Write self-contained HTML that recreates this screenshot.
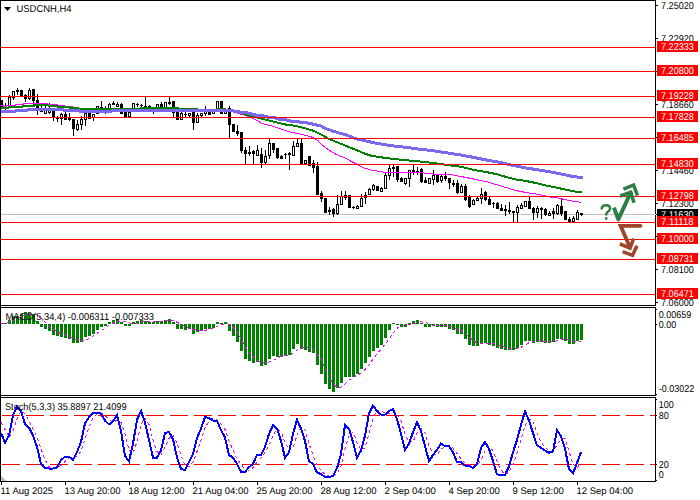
<!DOCTYPE html><html><head><meta charset="utf-8"><style>html,body{margin:0;padding:0;background:#fff;width:700px;height:500px;overflow:hidden}svg{display:block}text{font-family:"Liberation Sans",sans-serif;font-size:9.5px;text-rendering:geometricPrecision}</style></head><body>
<svg width="700" height="500" viewBox="0 0 700 500" shape-rendering="crispEdges">
<rect x="0" y="0" width="700" height="500" fill="#fff"/>
<defs><clipPath id="cm"><rect x="1" y="1" width="654" height="304"/></clipPath><clipPath id="cd"><rect x="1" y="308" width="654" height="87"/></clipPath><clipPath id="cs"><rect x="1" y="398" width="654" height="83"/></clipPath></defs>
<g clip-path="url(#cm)">
<rect x="1" y="214" width="654" height="1" fill="#c0c0c0"/>
<rect x="1" y="100" width="1" height="9" fill="#000"/>
<rect x="0" y="100" width="3" height="7" fill="#000"/>
<rect x="5" y="103" width="1" height="8" fill="#000"/>
<rect x="4" y="106" width="3" height="2" fill="#000"/>
<rect x="9" y="95" width="1" height="12" fill="#000"/>
<rect x="8" y="97" width="3" height="10" fill="#000"/>
<rect x="9" y="98" width="1" height="8" fill="#fff"/>
<rect x="13" y="91" width="1" height="9" fill="#000"/>
<rect x="12" y="91" width="3" height="7" fill="#000"/>
<rect x="13" y="92" width="1" height="5" fill="#fff"/>
<rect x="17" y="88" width="1" height="7" fill="#000"/>
<rect x="16" y="90" width="3" height="2" fill="#000"/>
<rect x="21" y="90" width="1" height="6" fill="#000"/>
<rect x="20" y="90" width="3" height="6" fill="#000"/>
<rect x="25" y="94" width="1" height="8" fill="#000"/>
<rect x="24" y="95" width="3" height="4" fill="#000"/>
<rect x="29" y="88" width="1" height="12" fill="#000"/>
<rect x="28" y="90" width="3" height="9" fill="#000"/>
<rect x="29" y="91" width="1" height="7" fill="#fff"/>
<rect x="33" y="89" width="1" height="16" fill="#000"/>
<rect x="32" y="89" width="3" height="12" fill="#000"/>
<rect x="37" y="94" width="1" height="21" fill="#000"/>
<rect x="36" y="100" width="3" height="8" fill="#000"/>
<rect x="41" y="106" width="1" height="6" fill="#000"/>
<rect x="40" y="111" width="3" height="1" fill="#000"/>
<rect x="45" y="106" width="1" height="8" fill="#000"/>
<rect x="44" y="110" width="3" height="4" fill="#000"/>
<rect x="45" y="111" width="1" height="2" fill="#fff"/>
<rect x="49" y="103" width="1" height="11" fill="#000"/>
<rect x="48" y="110" width="3" height="3" fill="#000"/>
<rect x="49" y="111" width="1" height="1" fill="#fff"/>
<rect x="53" y="111" width="1" height="10" fill="#000"/>
<rect x="52" y="111" width="3" height="7" fill="#000"/>
<rect x="57" y="116" width="1" height="6" fill="#000"/>
<rect x="56" y="118" width="3" height="1" fill="#000"/>
<rect x="61" y="113" width="1" height="12" fill="#000"/>
<rect x="60" y="114" width="3" height="5" fill="#000"/>
<rect x="61" y="115" width="1" height="3" fill="#fff"/>
<rect x="65" y="112" width="1" height="8" fill="#000"/>
<rect x="64" y="114" width="3" height="6" fill="#000"/>
<rect x="69" y="113" width="1" height="8" fill="#000"/>
<rect x="68" y="117" width="3" height="3" fill="#000"/>
<rect x="73" y="119" width="1" height="17" fill="#000"/>
<rect x="72" y="119" width="3" height="10" fill="#000"/>
<rect x="77" y="120" width="1" height="11" fill="#000"/>
<rect x="76" y="124" width="3" height="6" fill="#000"/>
<rect x="77" y="125" width="1" height="4" fill="#fff"/>
<rect x="81" y="116" width="1" height="14" fill="#000"/>
<rect x="80" y="119" width="3" height="6" fill="#000"/>
<rect x="81" y="120" width="1" height="4" fill="#fff"/>
<rect x="85" y="113" width="1" height="13" fill="#000"/>
<rect x="84" y="113" width="3" height="7" fill="#000"/>
<rect x="85" y="114" width="1" height="5" fill="#fff"/>
<rect x="89" y="113" width="1" height="6" fill="#000"/>
<rect x="88" y="113" width="3" height="6" fill="#000"/>
<rect x="93" y="114" width="1" height="7" fill="#000"/>
<rect x="92" y="114" width="3" height="4" fill="#000"/>
<rect x="93" y="115" width="1" height="2" fill="#fff"/>
<rect x="97" y="106" width="1" height="8" fill="#000"/>
<rect x="96" y="106" width="3" height="8" fill="#000"/>
<rect x="97" y="107" width="1" height="6" fill="#fff"/>
<rect x="101" y="101" width="1" height="7" fill="#000"/>
<rect x="100" y="107" width="3" height="1" fill="#000"/>
<rect x="105" y="106" width="1" height="8" fill="#000"/>
<rect x="104" y="110" width="3" height="1" fill="#000"/>
<rect x="109" y="103" width="1" height="6" fill="#000"/>
<rect x="108" y="104" width="3" height="5" fill="#000"/>
<rect x="109" y="105" width="1" height="3" fill="#fff"/>
<rect x="113" y="101" width="1" height="4" fill="#000"/>
<rect x="112" y="103" width="3" height="2" fill="#000"/>
<rect x="117" y="102" width="1" height="5" fill="#000"/>
<rect x="116" y="104" width="3" height="3" fill="#000"/>
<rect x="117" y="105" width="1" height="1" fill="#fff"/>
<rect x="121" y="103" width="1" height="11" fill="#000"/>
<rect x="120" y="104" width="3" height="10" fill="#000"/>
<rect x="125" y="112" width="1" height="6" fill="#000"/>
<rect x="124" y="112" width="3" height="6" fill="#000"/>
<rect x="129" y="112" width="1" height="6" fill="#000"/>
<rect x="128" y="112" width="3" height="5" fill="#000"/>
<rect x="129" y="113" width="1" height="3" fill="#fff"/>
<rect x="133" y="103" width="1" height="6" fill="#000"/>
<rect x="132" y="103" width="3" height="6" fill="#000"/>
<rect x="133" y="104" width="1" height="4" fill="#fff"/>
<rect x="137" y="103" width="1" height="4" fill="#000"/>
<rect x="136" y="104" width="3" height="1" fill="#000"/>
<rect x="141" y="104" width="1" height="4" fill="#000"/>
<rect x="140" y="105" width="3" height="1" fill="#000"/>
<rect x="145" y="96" width="1" height="13" fill="#000"/>
<rect x="144" y="106" width="3" height="2" fill="#000"/>
<rect x="149" y="105" width="1" height="4" fill="#000"/>
<rect x="148" y="106" width="3" height="1" fill="#000"/>
<rect x="153" y="107" width="1" height="7" fill="#000"/>
<rect x="152" y="110" width="3" height="1" fill="#000"/>
<rect x="157" y="104" width="1" height="5" fill="#000"/>
<rect x="156" y="104" width="3" height="5" fill="#000"/>
<rect x="157" y="105" width="1" height="3" fill="#fff"/>
<rect x="161" y="102" width="1" height="7" fill="#000"/>
<rect x="160" y="104" width="3" height="5" fill="#000"/>
<rect x="165" y="102" width="1" height="6" fill="#000"/>
<rect x="164" y="102" width="3" height="6" fill="#000"/>
<rect x="165" y="103" width="1" height="4" fill="#fff"/>
<rect x="169" y="96" width="1" height="9" fill="#000"/>
<rect x="168" y="102" width="3" height="2" fill="#000"/>
<rect x="173" y="101" width="1" height="16" fill="#000"/>
<rect x="172" y="101" width="3" height="12" fill="#000"/>
<rect x="177" y="112" width="1" height="8" fill="#000"/>
<rect x="176" y="112" width="3" height="8" fill="#000"/>
<rect x="181" y="112" width="1" height="8" fill="#000"/>
<rect x="180" y="113" width="3" height="7" fill="#000"/>
<rect x="181" y="114" width="1" height="5" fill="#fff"/>
<rect x="185" y="112" width="1" height="6" fill="#000"/>
<rect x="184" y="114" width="3" height="1" fill="#000"/>
<rect x="189" y="113" width="1" height="5" fill="#000"/>
<rect x="188" y="113" width="3" height="3" fill="#000"/>
<rect x="189" y="114" width="1" height="1" fill="#fff"/>
<rect x="193" y="112" width="1" height="18" fill="#000"/>
<rect x="192" y="112" width="3" height="11" fill="#000"/>
<rect x="197" y="113" width="1" height="10" fill="#000"/>
<rect x="196" y="115" width="3" height="8" fill="#000"/>
<rect x="197" y="116" width="1" height="6" fill="#fff"/>
<rect x="201" y="113" width="1" height="4" fill="#000"/>
<rect x="200" y="113" width="3" height="3" fill="#000"/>
<rect x="201" y="114" width="1" height="1" fill="#fff"/>
<rect x="205" y="106" width="1" height="10" fill="#000"/>
<rect x="204" y="111" width="3" height="3" fill="#000"/>
<rect x="205" y="112" width="1" height="1" fill="#fff"/>
<rect x="209" y="111" width="1" height="4" fill="#000"/>
<rect x="208" y="111" width="3" height="4" fill="#000"/>
<rect x="213" y="111" width="1" height="3" fill="#000"/>
<rect x="212" y="111" width="3" height="3" fill="#000"/>
<rect x="213" y="112" width="1" height="1" fill="#fff"/>
<rect x="217" y="101" width="1" height="9" fill="#000"/>
<rect x="216" y="101" width="3" height="9" fill="#000"/>
<rect x="217" y="102" width="1" height="7" fill="#fff"/>
<rect x="221" y="101" width="1" height="13" fill="#000"/>
<rect x="220" y="101" width="3" height="13" fill="#000"/>
<rect x="225" y="111" width="1" height="3" fill="#000"/>
<rect x="224" y="111" width="3" height="3" fill="#000"/>
<rect x="225" y="112" width="1" height="1" fill="#fff"/>
<rect x="229" y="106" width="1" height="33" fill="#000"/>
<rect x="228" y="108" width="3" height="17" fill="#000"/>
<rect x="233" y="124" width="1" height="8" fill="#000"/>
<rect x="232" y="124" width="3" height="8" fill="#000"/>
<rect x="237" y="125" width="1" height="11" fill="#000"/>
<rect x="236" y="131" width="3" height="3" fill="#000"/>
<rect x="241" y="132" width="1" height="21" fill="#000"/>
<rect x="240" y="132" width="3" height="19" fill="#000"/>
<rect x="245" y="147" width="1" height="18" fill="#000"/>
<rect x="244" y="150" width="3" height="4" fill="#000"/>
<rect x="249" y="146" width="1" height="10" fill="#000"/>
<rect x="248" y="152" width="3" height="2" fill="#000"/>
<rect x="253" y="150" width="1" height="15" fill="#000"/>
<rect x="252" y="151" width="3" height="3" fill="#000"/>
<rect x="257" y="145" width="1" height="11" fill="#000"/>
<rect x="256" y="150" width="3" height="6" fill="#000"/>
<rect x="257" y="151" width="1" height="4" fill="#fff"/>
<rect x="261" y="148" width="1" height="20" fill="#000"/>
<rect x="260" y="154" width="3" height="9" fill="#000"/>
<rect x="265" y="150" width="1" height="14" fill="#000"/>
<rect x="264" y="156" width="3" height="7" fill="#000"/>
<rect x="265" y="157" width="1" height="5" fill="#fff"/>
<rect x="269" y="139" width="1" height="20" fill="#000"/>
<rect x="268" y="143" width="3" height="13" fill="#000"/>
<rect x="269" y="144" width="1" height="11" fill="#fff"/>
<rect x="273" y="143" width="1" height="10" fill="#000"/>
<rect x="272" y="143" width="3" height="7" fill="#000"/>
<rect x="277" y="148" width="1" height="11" fill="#000"/>
<rect x="276" y="148" width="3" height="10" fill="#000"/>
<rect x="281" y="155" width="1" height="4" fill="#000"/>
<rect x="280" y="156" width="3" height="3" fill="#000"/>
<rect x="285" y="153" width="1" height="6" fill="#000"/>
<rect x="284" y="154" width="3" height="1" fill="#000"/>
<rect x="289" y="152" width="1" height="18" fill="#000"/>
<rect x="288" y="153" width="3" height="2" fill="#000"/>
<rect x="293" y="141" width="1" height="15" fill="#000"/>
<rect x="292" y="146" width="3" height="10" fill="#000"/>
<rect x="293" y="147" width="1" height="8" fill="#fff"/>
<rect x="297" y="138" width="1" height="9" fill="#000"/>
<rect x="296" y="143" width="3" height="4" fill="#000"/>
<rect x="297" y="144" width="1" height="2" fill="#fff"/>
<rect x="301" y="138" width="1" height="26" fill="#000"/>
<rect x="300" y="143" width="3" height="21" fill="#000"/>
<rect x="305" y="160" width="1" height="4" fill="#000"/>
<rect x="304" y="160" width="3" height="4" fill="#000"/>
<rect x="305" y="161" width="1" height="2" fill="#fff"/>
<rect x="309" y="156" width="1" height="10" fill="#000"/>
<rect x="308" y="156" width="3" height="10" fill="#000"/>
<rect x="313" y="160" width="1" height="13" fill="#000"/>
<rect x="312" y="163" width="3" height="5" fill="#000"/>
<rect x="317" y="162" width="1" height="33" fill="#000"/>
<rect x="316" y="166" width="3" height="29" fill="#000"/>
<rect x="321" y="191" width="1" height="11" fill="#000"/>
<rect x="320" y="193" width="3" height="6" fill="#000"/>
<rect x="325" y="198" width="1" height="15" fill="#000"/>
<rect x="324" y="198" width="3" height="15" fill="#000"/>
<rect x="329" y="207" width="1" height="8" fill="#000"/>
<rect x="328" y="210" width="3" height="2" fill="#000"/>
<rect x="333" y="208" width="1" height="9" fill="#000"/>
<rect x="332" y="209" width="3" height="5" fill="#000"/>
<rect x="337" y="195" width="1" height="20" fill="#000"/>
<rect x="336" y="204" width="3" height="10" fill="#000"/>
<rect x="337" y="205" width="1" height="8" fill="#fff"/>
<rect x="341" y="191" width="1" height="14" fill="#000"/>
<rect x="340" y="196" width="3" height="9" fill="#000"/>
<rect x="341" y="197" width="1" height="7" fill="#fff"/>
<rect x="345" y="191" width="1" height="9" fill="#000"/>
<rect x="344" y="195" width="3" height="3" fill="#000"/>
<rect x="349" y="195" width="1" height="13" fill="#000"/>
<rect x="348" y="195" width="3" height="13" fill="#000"/>
<rect x="353" y="206" width="1" height="3" fill="#000"/>
<rect x="352" y="207" width="3" height="1" fill="#000"/>
<rect x="357" y="205" width="1" height="4" fill="#000"/>
<rect x="356" y="206" width="3" height="3" fill="#000"/>
<rect x="357" y="207" width="1" height="1" fill="#fff"/>
<rect x="361" y="194" width="1" height="13" fill="#000"/>
<rect x="360" y="198" width="3" height="9" fill="#000"/>
<rect x="361" y="199" width="1" height="7" fill="#fff"/>
<rect x="365" y="192" width="1" height="12" fill="#000"/>
<rect x="364" y="195" width="3" height="3" fill="#000"/>
<rect x="369" y="188" width="1" height="7" fill="#000"/>
<rect x="368" y="189" width="3" height="6" fill="#000"/>
<rect x="369" y="190" width="1" height="4" fill="#fff"/>
<rect x="373" y="184" width="1" height="7" fill="#000"/>
<rect x="372" y="185" width="3" height="5" fill="#000"/>
<rect x="373" y="186" width="1" height="3" fill="#fff"/>
<rect x="377" y="186" width="1" height="5" fill="#000"/>
<rect x="376" y="186" width="3" height="5" fill="#000"/>
<rect x="381" y="187" width="1" height="5" fill="#000"/>
<rect x="380" y="188" width="3" height="4" fill="#000"/>
<rect x="381" y="189" width="1" height="2" fill="#fff"/>
<rect x="385" y="173" width="1" height="16" fill="#000"/>
<rect x="384" y="175" width="3" height="14" fill="#000"/>
<rect x="385" y="176" width="1" height="12" fill="#fff"/>
<rect x="389" y="165" width="1" height="15" fill="#000"/>
<rect x="388" y="168" width="3" height="8" fill="#000"/>
<rect x="389" y="169" width="1" height="6" fill="#fff"/>
<rect x="393" y="165" width="1" height="12" fill="#000"/>
<rect x="392" y="167" width="3" height="2" fill="#000"/>
<rect x="397" y="166" width="1" height="16" fill="#000"/>
<rect x="396" y="166" width="3" height="14" fill="#000"/>
<rect x="401" y="177" width="1" height="5" fill="#000"/>
<rect x="400" y="178" width="3" height="4" fill="#000"/>
<rect x="405" y="178" width="1" height="7" fill="#000"/>
<rect x="404" y="178" width="3" height="6" fill="#000"/>
<rect x="405" y="179" width="1" height="4" fill="#fff"/>
<rect x="409" y="170" width="1" height="17" fill="#000"/>
<rect x="408" y="170" width="3" height="9" fill="#000"/>
<rect x="409" y="171" width="1" height="7" fill="#fff"/>
<rect x="413" y="165" width="1" height="10" fill="#000"/>
<rect x="412" y="170" width="3" height="2" fill="#000"/>
<rect x="417" y="167" width="1" height="8" fill="#000"/>
<rect x="416" y="171" width="3" height="1" fill="#000"/>
<rect x="421" y="168" width="1" height="15" fill="#000"/>
<rect x="420" y="169" width="3" height="13" fill="#000"/>
<rect x="425" y="177" width="1" height="6" fill="#000"/>
<rect x="424" y="180" width="3" height="3" fill="#000"/>
<rect x="429" y="178" width="1" height="6" fill="#000"/>
<rect x="428" y="178" width="3" height="6" fill="#000"/>
<rect x="429" y="179" width="1" height="4" fill="#fff"/>
<rect x="433" y="170" width="1" height="15" fill="#000"/>
<rect x="432" y="175" width="3" height="5" fill="#000"/>
<rect x="433" y="176" width="1" height="3" fill="#fff"/>
<rect x="437" y="175" width="1" height="8" fill="#000"/>
<rect x="436" y="175" width="3" height="7" fill="#000"/>
<rect x="441" y="175" width="1" height="8" fill="#000"/>
<rect x="440" y="176" width="3" height="5" fill="#000"/>
<rect x="441" y="177" width="1" height="3" fill="#fff"/>
<rect x="445" y="172" width="1" height="9" fill="#000"/>
<rect x="444" y="176" width="3" height="3" fill="#000"/>
<rect x="449" y="178" width="1" height="11" fill="#000"/>
<rect x="448" y="178" width="3" height="5" fill="#000"/>
<rect x="453" y="180" width="1" height="7" fill="#000"/>
<rect x="452" y="183" width="3" height="2" fill="#000"/>
<rect x="457" y="180" width="1" height="14" fill="#000"/>
<rect x="456" y="183" width="3" height="10" fill="#000"/>
<rect x="461" y="184" width="1" height="9" fill="#000"/>
<rect x="460" y="186" width="3" height="7" fill="#000"/>
<rect x="461" y="187" width="1" height="5" fill="#fff"/>
<rect x="465" y="184" width="1" height="17" fill="#000"/>
<rect x="464" y="186" width="3" height="14" fill="#000"/>
<rect x="469" y="195" width="1" height="13" fill="#000"/>
<rect x="468" y="197" width="3" height="10" fill="#000"/>
<rect x="473" y="199" width="1" height="6" fill="#000"/>
<rect x="472" y="200" width="3" height="5" fill="#000"/>
<rect x="473" y="201" width="1" height="3" fill="#fff"/>
<rect x="477" y="197" width="1" height="4" fill="#000"/>
<rect x="476" y="198" width="3" height="3" fill="#000"/>
<rect x="477" y="199" width="1" height="1" fill="#fff"/>
<rect x="481" y="188" width="1" height="16" fill="#000"/>
<rect x="480" y="194" width="3" height="5" fill="#000"/>
<rect x="481" y="195" width="1" height="3" fill="#fff"/>
<rect x="485" y="191" width="1" height="10" fill="#000"/>
<rect x="484" y="192" width="3" height="8" fill="#000"/>
<rect x="489" y="197" width="1" height="8" fill="#000"/>
<rect x="488" y="199" width="3" height="6" fill="#000"/>
<rect x="493" y="202" width="1" height="6" fill="#000"/>
<rect x="492" y="203" width="3" height="1" fill="#000"/>
<rect x="497" y="202" width="1" height="7" fill="#000"/>
<rect x="496" y="203" width="3" height="6" fill="#000"/>
<rect x="501" y="204" width="1" height="7" fill="#000"/>
<rect x="500" y="208" width="3" height="3" fill="#000"/>
<rect x="505" y="205" width="1" height="11" fill="#000"/>
<rect x="504" y="209" width="3" height="2" fill="#000"/>
<rect x="509" y="202" width="1" height="12" fill="#000"/>
<rect x="508" y="210" width="3" height="2" fill="#000"/>
<rect x="513" y="211" width="1" height="11" fill="#000"/>
<rect x="512" y="211" width="3" height="2" fill="#000"/>
<rect x="517" y="205" width="1" height="17" fill="#000"/>
<rect x="516" y="207" width="3" height="6" fill="#000"/>
<rect x="517" y="208" width="1" height="4" fill="#fff"/>
<rect x="521" y="203" width="1" height="6" fill="#000"/>
<rect x="520" y="205" width="3" height="4" fill="#000"/>
<rect x="521" y="206" width="1" height="2" fill="#fff"/>
<rect x="525" y="201" width="1" height="6" fill="#000"/>
<rect x="524" y="201" width="3" height="6" fill="#000"/>
<rect x="525" y="202" width="1" height="4" fill="#fff"/>
<rect x="529" y="197" width="1" height="12" fill="#000"/>
<rect x="528" y="201" width="3" height="8" fill="#000"/>
<rect x="533" y="207" width="1" height="13" fill="#000"/>
<rect x="532" y="208" width="3" height="5" fill="#000"/>
<rect x="537" y="206" width="1" height="12" fill="#000"/>
<rect x="536" y="208" width="3" height="5" fill="#000"/>
<rect x="537" y="209" width="1" height="3" fill="#fff"/>
<rect x="541" y="207" width="1" height="12" fill="#000"/>
<rect x="540" y="208" width="3" height="2" fill="#000"/>
<rect x="545" y="208" width="1" height="8" fill="#000"/>
<rect x="544" y="209" width="3" height="6" fill="#000"/>
<rect x="549" y="211" width="1" height="5" fill="#000"/>
<rect x="548" y="213" width="3" height="3" fill="#000"/>
<rect x="549" y="214" width="1" height="1" fill="#fff"/>
<rect x="553" y="208" width="1" height="11" fill="#000"/>
<rect x="552" y="211" width="3" height="3" fill="#000"/>
<rect x="557" y="204" width="1" height="11" fill="#000"/>
<rect x="556" y="205" width="3" height="9" fill="#000"/>
<rect x="557" y="206" width="1" height="7" fill="#fff"/>
<rect x="561" y="199" width="1" height="17" fill="#000"/>
<rect x="560" y="206" width="3" height="8" fill="#000"/>
<rect x="565" y="211" width="1" height="9" fill="#000"/>
<rect x="564" y="211" width="3" height="9" fill="#000"/>
<rect x="569" y="217" width="1" height="5" fill="#000"/>
<rect x="568" y="219" width="3" height="3" fill="#000"/>
<rect x="573" y="216" width="1" height="6" fill="#000"/>
<rect x="572" y="218" width="3" height="4" fill="#000"/>
<rect x="573" y="219" width="1" height="2" fill="#fff"/>
<rect x="577" y="210" width="1" height="10" fill="#000"/>
<rect x="576" y="212" width="3" height="8" fill="#000"/>
<rect x="577" y="213" width="1" height="6" fill="#fff"/>
<rect x="581" y="213" width="1" height="3" fill="#000"/>
<rect x="580" y="213" width="3" height="2" fill="#000"/>
<polyline points="1,105.5 3,105.5 4,106.5 6,106.5 7,105.5 15,105.5 16,104.5 23,104.5 24,103.5 33,103.5 47,103.5 48,104.5 57,104.5 57.5,105.5 64,105.5 65,106.5 72,106.5 73,107.5 90,109 120,109.5 150,109 180,109.5 197,110.5 230,110.5 234,111.5 240,114 249,116.5 257,120.5 262,123.5 266,124.5 270,125.5 273.5,126.5 276,127.5 292,132.5 298,133.5 302,134.5 306,135.5 310,136.5 313,137.5 315,139 318,140.5 321,144.3 329,150 336,154.3 343,157.1 350,160.7 357,164.3 364,167.9 371,170 379,171.4 386,172.5 393,172.5 404,172.6 419,172.6 433,173.8 436,174.5 451,174.5 455,175.5 461,176.5 466,177.5 471,178.5 476,179.5 480,180.5 486,181.5 496,184.5 506,187.5 516,190.5 526,192.5 536,194 543,195.5 551,197.1 559,198.2 566,199.8 574,201.4 581,202.2" fill="none" stroke="#ff00ff" stroke-width="1" />
<polyline points="1,108 8,108 9,107 22,107 23,106 34,106 35,105 48,105 49,106 57,106 58,107 69,107 70,108 78,108 79,109 100,109 110,108.7 140,108.5 161,108 178,108 179,109 197,109 199,110.5 215,110.5 217,109 226,109.5 233,110.5 247,115 255,117 263,119 267,120 271,121 275,122 279,123 283,124 288,125 293,125.5 300,127 307,128.8 314,131 321,134.5 329,139 336,141.8 343,144.6 350,147.5 357,150.3 364,153.3 371,155.7 379,157.1 386,157.9 393,159 404,160 419,161.4 433,162.9 447,165 461,166.8 476,170.4 486,172 496,174 506,177 516,179.5 526,181 536,183 543,184.8 559,188.2 574,191.4 582,192.5" fill="none" stroke="#008000" stroke-width="2" />
<polyline points="1,111.5 15,111.5 16,110.5 27,110.5 28,109.5 63,109.5 64,110.5 79,110.5 80,111.5 111,111.5 112,110.5 197,110.5 231,110.5 236,111.5 239,111.5 240,112.5 247,112.5 248,113.5 251,113.5 252,114.5 255,114.5 256,115.5 263,115.5 264,116.5 267,116.5 268,117.5 275,117.5 276,118.5 278,118.5 279,119.5 286,119.5 287,120.5 290,120.5 291,121.5 299,121.5 300,122.5 307,122.5 308,123.5 312,123.5 313,124.5 316,124.5 317,125.5 320,125.5 325,128.2 332,130.8 339,133 346,134.8 356,138.7 366,141 376,143.2 386,144.8 396,146.3 404,147.1 419,149.1 433,150.7 447,152.9 461,155 476,157.9 490,160.7 496,161.5 511,165 527,168.2 543,170.6 559,173.5 574,176.8 583,177.5" fill="none" stroke="#7b68ee" stroke-width="3" />
<rect x="1" y="47" width="654" height="1" fill="#ff0000"/>
<rect x="1" y="71" width="654" height="1" fill="#ff0000"/>
<rect x="1" y="96" width="654" height="1" fill="#ff0000"/>
<rect x="1" y="117" width="654" height="1" fill="#ff0000"/>
<rect x="1" y="138" width="654" height="1" fill="#ff0000"/>
<rect x="1" y="164" width="654" height="1" fill="#ff0000"/>
<rect x="1" y="196" width="654" height="1" fill="#ff0000"/>
<rect x="1" y="222" width="654" height="1" fill="#ff0000"/>
<rect x="1" y="239" width="654" height="1" fill="#ff0000"/>
<rect x="1" y="259" width="654" height="1" fill="#ff0000"/>
<rect x="1" y="294" width="654" height="1" fill="#ff0000"/>
</g>
<g clip-path="url(#cd)">
<rect x="0" y="323" width="3" height="1" fill="#008000"/>
<rect x="4" y="323" width="3" height="1" fill="#008000"/>
<rect x="8" y="320" width="3" height="4" fill="#008000"/>
<rect x="12" y="316" width="3" height="8" fill="#008000"/>
<rect x="16" y="316" width="3" height="8" fill="#008000"/>
<rect x="20" y="314" width="3" height="10" fill="#008000"/>
<rect x="24" y="312" width="3" height="12" fill="#008000"/>
<rect x="28" y="312" width="3" height="12" fill="#008000"/>
<rect x="32" y="314" width="3" height="10" fill="#008000"/>
<rect x="36" y="321" width="3" height="3" fill="#008000"/>
<rect x="40" y="324" width="3" height="3" fill="#008000"/>
<rect x="44" y="324" width="3" height="5" fill="#008000"/>
<rect x="48" y="324" width="3" height="7" fill="#008000"/>
<rect x="52" y="324" width="3" height="11" fill="#008000"/>
<rect x="56" y="324" width="3" height="12" fill="#008000"/>
<rect x="60" y="324" width="3" height="13" fill="#008000"/>
<rect x="64" y="324" width="3" height="14" fill="#008000"/>
<rect x="68" y="324" width="3" height="15" fill="#008000"/>
<rect x="72" y="324" width="3" height="19" fill="#008000"/>
<rect x="76" y="324" width="3" height="19" fill="#008000"/>
<rect x="80" y="324" width="3" height="18" fill="#008000"/>
<rect x="84" y="324" width="3" height="13" fill="#008000"/>
<rect x="88" y="324" width="3" height="12" fill="#008000"/>
<rect x="92" y="324" width="3" height="10" fill="#008000"/>
<rect x="96" y="324" width="3" height="6" fill="#008000"/>
<rect x="100" y="324" width="3" height="3" fill="#008000"/>
<rect x="104" y="324" width="3" height="2" fill="#008000"/>
<rect x="108" y="322" width="3" height="2" fill="#008000"/>
<rect x="112" y="320" width="3" height="4" fill="#008000"/>
<rect x="116" y="319" width="3" height="5" fill="#008000"/>
<rect x="120" y="322" width="3" height="2" fill="#008000"/>
<rect x="124" y="324" width="3" height="2" fill="#008000"/>
<rect x="128" y="324" width="3" height="2" fill="#008000"/>
<rect x="132" y="322" width="3" height="2" fill="#008000"/>
<rect x="136" y="321" width="3" height="3" fill="#008000"/>
<rect x="140" y="320" width="3" height="4" fill="#008000"/>
<rect x="144" y="321" width="3" height="3" fill="#008000"/>
<rect x="148" y="322" width="3" height="2" fill="#008000"/>
<rect x="152" y="322" width="3" height="2" fill="#008000"/>
<rect x="156" y="321" width="3" height="3" fill="#008000"/>
<rect x="160" y="321" width="3" height="3" fill="#008000"/>
<rect x="164" y="320" width="3" height="4" fill="#008000"/>
<rect x="168" y="319" width="3" height="5" fill="#008000"/>
<rect x="172" y="322" width="3" height="2" fill="#008000"/>
<rect x="176" y="324" width="3" height="5" fill="#008000"/>
<rect x="180" y="324" width="3" height="5" fill="#008000"/>
<rect x="184" y="324" width="3" height="6" fill="#008000"/>
<rect x="188" y="324" width="3" height="5" fill="#008000"/>
<rect x="192" y="324" width="3" height="10" fill="#008000"/>
<rect x="196" y="324" width="3" height="8" fill="#008000"/>
<rect x="200" y="324" width="3" height="7" fill="#008000"/>
<rect x="204" y="324" width="3" height="5" fill="#008000"/>
<rect x="208" y="324" width="3" height="5" fill="#008000"/>
<rect x="212" y="324" width="3" height="4" fill="#008000"/>
<rect x="216" y="322" width="3" height="2" fill="#008000"/>
<rect x="220" y="323" width="3" height="1" fill="#008000"/>
<rect x="224" y="322" width="3" height="2" fill="#008000"/>
<rect x="228" y="324" width="3" height="7" fill="#008000"/>
<rect x="232" y="324" width="3" height="12" fill="#008000"/>
<rect x="236" y="324" width="3" height="18" fill="#008000"/>
<rect x="240" y="324" width="3" height="27" fill="#008000"/>
<rect x="244" y="324" width="3" height="35" fill="#008000"/>
<rect x="248" y="324" width="3" height="37" fill="#008000"/>
<rect x="252" y="324" width="3" height="39" fill="#008000"/>
<rect x="256" y="324" width="3" height="38" fill="#008000"/>
<rect x="260" y="324" width="3" height="42" fill="#008000"/>
<rect x="264" y="324" width="3" height="41" fill="#008000"/>
<rect x="268" y="324" width="3" height="35" fill="#008000"/>
<rect x="272" y="324" width="3" height="32" fill="#008000"/>
<rect x="276" y="324" width="3" height="33" fill="#008000"/>
<rect x="280" y="324" width="3" height="33" fill="#008000"/>
<rect x="284" y="324" width="3" height="32" fill="#008000"/>
<rect x="288" y="324" width="3" height="31" fill="#008000"/>
<rect x="292" y="324" width="3" height="25" fill="#008000"/>
<rect x="296" y="324" width="3" height="20" fill="#008000"/>
<rect x="300" y="324" width="3" height="25" fill="#008000"/>
<rect x="304" y="324" width="3" height="26" fill="#008000"/>
<rect x="308" y="324" width="3" height="28" fill="#008000"/>
<rect x="312" y="324" width="3" height="29" fill="#008000"/>
<rect x="316" y="324" width="3" height="41" fill="#008000"/>
<rect x="320" y="324" width="3" height="50" fill="#008000"/>
<rect x="324" y="324" width="3" height="60" fill="#008000"/>
<rect x="328" y="324" width="3" height="65" fill="#008000"/>
<rect x="332" y="324" width="3" height="68" fill="#008000"/>
<rect x="336" y="324" width="3" height="64" fill="#008000"/>
<rect x="340" y="324" width="3" height="59" fill="#008000"/>
<rect x="344" y="324" width="3" height="53" fill="#008000"/>
<rect x="348" y="324" width="3" height="53" fill="#008000"/>
<rect x="352" y="324" width="3" height="53" fill="#008000"/>
<rect x="356" y="324" width="3" height="50" fill="#008000"/>
<rect x="360" y="324" width="3" height="45" fill="#008000"/>
<rect x="364" y="324" width="3" height="39" fill="#008000"/>
<rect x="368" y="324" width="3" height="33" fill="#008000"/>
<rect x="372" y="324" width="3" height="27" fill="#008000"/>
<rect x="376" y="324" width="3" height="24" fill="#008000"/>
<rect x="380" y="324" width="3" height="21" fill="#008000"/>
<rect x="384" y="324" width="3" height="14" fill="#008000"/>
<rect x="388" y="324" width="3" height="6" fill="#008000"/>
<rect x="392" y="323" width="3" height="1" fill="#008000"/>
<rect x="396" y="324" width="3" height="1" fill="#008000"/>
<rect x="400" y="324" width="3" height="3" fill="#008000"/>
<rect x="404" y="324" width="3" height="3" fill="#008000"/>
<rect x="408" y="323" width="3" height="1" fill="#008000"/>
<rect x="412" y="321" width="3" height="3" fill="#008000"/>
<rect x="416" y="320" width="3" height="4" fill="#008000"/>
<rect x="420" y="323" width="3" height="1" fill="#008000"/>
<rect x="424" y="324" width="3" height="3" fill="#008000"/>
<rect x="428" y="324" width="3" height="3" fill="#008000"/>
<rect x="432" y="324" width="3" height="2" fill="#008000"/>
<rect x="436" y="324" width="3" height="3" fill="#008000"/>
<rect x="440" y="324" width="3" height="3" fill="#008000"/>
<rect x="444" y="324" width="3" height="3" fill="#008000"/>
<rect x="448" y="324" width="3" height="5" fill="#008000"/>
<rect x="452" y="324" width="3" height="6" fill="#008000"/>
<rect x="456" y="324" width="3" height="10" fill="#008000"/>
<rect x="460" y="324" width="3" height="10" fill="#008000"/>
<rect x="464" y="324" width="3" height="15" fill="#008000"/>
<rect x="468" y="324" width="3" height="21" fill="#008000"/>
<rect x="472" y="324" width="3" height="22" fill="#008000"/>
<rect x="476" y="324" width="3" height="22" fill="#008000"/>
<rect x="480" y="324" width="3" height="19" fill="#008000"/>
<rect x="484" y="324" width="3" height="19" fill="#008000"/>
<rect x="488" y="324" width="3" height="21" fill="#008000"/>
<rect x="492" y="324" width="3" height="22" fill="#008000"/>
<rect x="496" y="324" width="3" height="24" fill="#008000"/>
<rect x="500" y="324" width="3" height="25" fill="#008000"/>
<rect x="504" y="324" width="3" height="26" fill="#008000"/>
<rect x="508" y="324" width="3" height="26" fill="#008000"/>
<rect x="512" y="324" width="3" height="26" fill="#008000"/>
<rect x="516" y="324" width="3" height="24" fill="#008000"/>
<rect x="520" y="324" width="3" height="21" fill="#008000"/>
<rect x="524" y="324" width="3" height="17" fill="#008000"/>
<rect x="528" y="324" width="3" height="17" fill="#008000"/>
<rect x="532" y="324" width="3" height="19" fill="#008000"/>
<rect x="536" y="324" width="3" height="18" fill="#008000"/>
<rect x="540" y="324" width="3" height="18" fill="#008000"/>
<rect x="544" y="324" width="3" height="19" fill="#008000"/>
<rect x="548" y="324" width="3" height="19" fill="#008000"/>
<rect x="552" y="324" width="3" height="18" fill="#008000"/>
<rect x="556" y="324" width="3" height="15" fill="#008000"/>
<rect x="560" y="324" width="3" height="15" fill="#008000"/>
<rect x="564" y="324" width="3" height="17" fill="#008000"/>
<rect x="568" y="324" width="3" height="20" fill="#008000"/>
<rect x="572" y="324" width="3" height="20" fill="#008000"/>
<rect x="576" y="324" width="3" height="17" fill="#008000"/>
<rect x="580" y="324" width="3" height="16" fill="#008000"/>
</g>
<text x="5.5" y="320" fill="#000" style="font-size:10px" textLength="148.5" lengthAdjust="spacingAndGlyphs">MACD(5,34,4) -0.006311 -0.007333</text>
<g clip-path="url(#cd)">
<polyline points="1,323.0 5,323.0 9,322.0 13,320.5 17,318.75 21,316.5 25,314.5 29,313.5 33,313.0 37,314.75 41,318.25 45,322.25 49,326.25 53,329.5 57,331.75 61,333.75 65,335.5 69,336.5 73,338.25 77,339.75 81,340.75 85,340.25 89,338.5 93,336.25 97,333.25 101,330.75 105,328.25 109,325.5 113,323.25 117,321.5 121,320.75 125,321.5 129,322.75 133,323.5 137,323.25 141,322.0 145,321.0 149,321.0 153,321.25 157,321.5 161,321.5 165,321.0 169,320.25 173,320.5 177,322.25 181,324.25 185,326.75 189,328.25 193,329.5 197,330.25 201,330.5 205,330.5 209,329.25 213,328.25 217,326.25 221,325.0 225,323.5 229,324.25 233,327.5 237,332.0 241,339.0 245,346.0 249,352.25 253,357.5 257,360.25 261,362.0 265,363.0 269,362.0 273,360.5 277,358.25 281,356.25 285,355.5 289,355.25 293,353.25 297,350.0 301,348.25 305,347.0 309,347.75 313,350.0 317,354.0 321,360.0 325,368.0 329,377.0 333,383.75 337,387.25 341,387.0 345,384.0 349,380.25 353,377.5 357,375.25 361,373.25 365,369.75 369,364.75 373,359.0 377,353.75 381,349.25 385,344.5 389,339.25 393,333.25 397,328.25 401,325.5 405,324.75 409,324.75 413,324.0 417,322.5 421,321.75 425,322.5 429,323.75 433,325.0 437,325.75 441,325.75 445,325.75 449,326.5 453,327.25 457,329.0 461,330.75 465,333.25 469,337.0 473,340.0 477,343.0 481,344.0 485,343.5 489,343.25 493,343.25 497,344.5 501,346.0 505,347.25 509,348.25 513,348.75 517,348.5 521,347.25 525,345.0 529,342.75 533,341.5 537,340.75 541,341.0 545,341.5 549,341.5 553,341.5 557,340.75 561,339.75 565,339.25 569,339.75 573,341.0 577,341.5 581,341.25" fill="none" stroke="#ff00ff" stroke-width="1" stroke-dasharray="3,3"/>
</g>
<g clip-path="url(#cs)">
<line x1="2" y1="415.5" x2="655" y2="415.5" stroke="#ff0000" stroke-width="1" stroke-dasharray="18,6"/>
<line x1="2" y1="464.5" x2="655" y2="464.5" stroke="#ff0000" stroke-width="1" stroke-dasharray="18,6"/>
<polyline points="1,422.4 5,429.5 9,437.1000000000001 13,431.23333333333335 17,419.1666666666667 21,410.9666666666667 25,413.8333333333333 29,420.90000000000003 33,429.06666666666666 37,436.73333333333335 41,448.76666666666665 45,459.6666666666667 49,466.8333333333333 53,468.40000000000003 57,468.1666666666667 61,465.43333333333334 65,461.5 69,457.90000000000003 73,457.7 77,456.23333333333335 81,451.26666666666665 85,439.1333333333334 89,427.40000000000003 93,417.8333333333333 97,414.3 101,413.1333333333334 105,415.6333333333334 109,419.56666666666666 113,422.2 117,420.3333333333333 121,422.56666666666666 125,434.06666666666666 129,449.5 133,453.59999999999997 137,441.5333333333333 141,424.76666666666665 145,417.7333333333333 149,424.4666666666667 153,440.0 157,451.73333333333335 161,455.2666666666667 165,447.06666666666666 169,438.56666666666666 173,434.73333333333335 177,442.9333333333334 181,455.23333333333335 185,465.5333333333333 189,467.0 193,462.0333333333333 197,451.4666666666667 201,440.3333333333333 205,428.0 209,421.23333333333335 213,418.56666666666666 217,419.73333333333335 221,423.8333333333333 225,429.43333333333334 229,440.90000000000003 233,450.0 237,458.8 241,464.3666666666666 245,469.06666666666666 249,470.23333333333335 253,467.59999999999997 257,462.0333333333333 261,457.93333333333334 265,452.3333333333333 269,445.3 273,435.3 277,429.1666666666667 281,431.5 285,442.3666666666666 289,450.26666666666665 293,447.93333333333334 297,435.3333333333333 301,427.43333333333334 305,429.76666666666665 309,443.5333333333333 313,455.26666666666665 317,465.8333333333333 321,470.1333333333334 325,474.5333333333333 329,476.0 333,476.7 337,473.76666666666665 341,466.1333333333334 345,449.09999999999997 349,435.90000000000003 353,431.8666666666666 357,442.73333333333335 361,450.06666666666666 365,447.9333333333334 369,433.2666666666667 373,418.3 377,410.09999999999997 381,410.40000000000003 385,413.3333333333333 389,413.3333333333333 393,411.56666666666666 397,413.0333333333333 401,420.6666666666667 405,434.1666666666667 409,442.3666666666666 413,441.76666666666665 417,432.6666666666667 421,428.56666666666666 425,433.2 429,446.1000000000001 433,454.0333333333333 437,455.26666666666665 441,449.40000000000003 445,446.4666666666667 449,445.3 453,448.23333333333335 457,453.5 461,458.76666666666665 465,463.1666666666667 469,464.5333333333333 473,466.4666666666667 477,465.90000000000003 481,459.8333333333333 485,451.26666666666665 489,446.26666666666665 493,450.6666666666667 497,461.40000000000003 501,470.09999999999997 505,474.7 509,472.0666666666666 513,464.5333333333333 517,452.90000000000003 521,439.09999999999997 525,425.5 529,419.0333333333333 533,421.7 537,432.9666666666667 541,442.0666666666666 545,447.93333333333334 549,450.40000000000003 553,451.59999999999997 557,444.8333333333333 561,439.43333333333334 565,438.5333333333333 569,451.43333333333334 573,463.76666666666665 577,468.4666666666667 581,462.8" fill="none" stroke="#ff00ff" stroke-width="1" stroke-dasharray="3,3"/>
<polyline points="1,433 5,442.7 9,435.6 13,415.4 17,406.5 21,411 25,424 29,427.7 33,435.5 37,447 41,463.8 45,468.2 49,468.5 53,468.5 57,467.5 61,460.3 65,456.7 69,456.7 73,459.7 77,452.3 81,441.8 85,423.3 89,417.1 93,413.1 97,412.7 101,413.6 105,420.6 109,424.5 113,421.5 117,415 121,431.2 125,456 129,461.3 133,443.5 137,419.8 141,411 145,422.4 149,440 153,457.6 157,457.6 161,450.6 165,433 169,432.1 173,439.1 177,457.6 181,469 185,470 189,462 193,454.1 197,438.3 201,428.6 205,417.1 209,418 213,420.6 217,420.6 221,430.3 225,437.4 229,455 233,457.6 237,463.8 241,471.7 245,471.7 249,467.3 253,463.8 257,455 261,455 265,447 269,433.9 273,425 277,428.6 281,440.9 285,457.6 289,452.3 293,433.9 297,419.8 301,428.6 305,440.9 309,461.1 313,463.8 317,472.6 321,474 325,477 329,477 333,476.1 337,468.2 341,454.1 345,425 349,428.6 353,442 357,457.6 361,450.6 365,435.6 369,413.6 373,405.7 377,411 381,414.5 385,414.5 389,411 393,409.2 397,418.9 401,433.9 405,449.7 409,443.5 413,432.1 417,422.4 421,431.2 425,446 429,461.1 433,455 437,449.7 441,443.5 445,446.2 449,446.2 453,452.3 457,462 461,462 465,465.5 469,466.1 473,467.8 477,463.8 481,447.9 485,442.1 489,448.8 493,461.1 497,474.3 501,474.9 505,474.9 509,466.4 513,452.3 517,440 521,425 525,411.5 529,420.6 533,433 537,445.3 541,447.9 545,450.6 549,452.7 553,451.5 557,430.3 561,436.5 565,448.8 569,469 573,473.5 577,462.9 581,452" fill="none" stroke="#0000ff" stroke-width="2" />
</g>
<text x="5" y="410" fill="#000" style="font-size:10px" textLength="121.5" lengthAdjust="spacingAndGlyphs">Stoch(5,3,3) 35.8897 21.4099</text>
<rect x="0" y="0" width="656" height="1" fill="#000"/>
<rect x="0" y="305" width="656" height="1" fill="#000"/>
<rect x="0" y="0" width="1" height="482" fill="#000"/>
<rect x="655" y="0" width="1" height="306" fill="#000"/>
<rect x="0" y="307" width="656" height="1" fill="#000"/>
<rect x="0" y="395" width="656" height="1" fill="#000"/>
<rect x="655" y="307" width="1" height="89" fill="#000"/>
<rect x="0" y="397" width="656" height="1" fill="#000"/>
<rect x="0" y="481" width="656" height="1" fill="#000"/>
<rect x="655" y="397" width="1" height="85" fill="#000"/>
<rect x="655" y="214" width="1" height="1" fill="#fff"/>
<polygon points="1,476 1,481 6,481" fill="#c0c0c0"/>
<rect x="656" y="5" width="2" height="1" fill="#000"/>
<rect x="656" y="38" width="2" height="1" fill="#000"/>
<rect x="656" y="71" width="2" height="1" fill="#000"/>
<rect x="656" y="104" width="2" height="1" fill="#000"/>
<rect x="656" y="137" width="2" height="1" fill="#000"/>
<rect x="656" y="170" width="2" height="1" fill="#000"/>
<rect x="656" y="203" width="2" height="1" fill="#000"/>
<rect x="656" y="236" width="2" height="1" fill="#000"/>
<rect x="656" y="269" width="2" height="1" fill="#000"/>
<rect x="656" y="302" width="2" height="1" fill="#000"/>
<rect x="656" y="214" width="2" height="1" fill="#000"/>
<rect x="656" y="309" width="1" height="1" fill="#000"/>
<rect x="656" y="324" width="1" height="1" fill="#000"/>
<rect x="656" y="394" width="1" height="1" fill="#000"/>
<rect x="656" y="399" width="1" height="1" fill="#000"/>
<rect x="656" y="415" width="1" height="1" fill="#000"/>
<rect x="656" y="464" width="1" height="1" fill="#000"/>
<rect x="656" y="480" width="1" height="1" fill="#000"/>
<rect x="1" y="482" width="1" height="3" fill="#000"/>
<rect x="65" y="482" width="1" height="3" fill="#000"/>
<rect x="129" y="482" width="1" height="3" fill="#000"/>
<rect x="193" y="482" width="1" height="3" fill="#000"/>
<rect x="257" y="482" width="1" height="3" fill="#000"/>
<rect x="321" y="482" width="1" height="3" fill="#000"/>
<rect x="385" y="482" width="1" height="3" fill="#000"/>
<rect x="449" y="482" width="1" height="3" fill="#000"/>
<rect x="513" y="482" width="1" height="3" fill="#000"/>
<rect x="577" y="482" width="1" height="3" fill="#000"/>
<text x="16.5" y="11.5" fill="#000" textLength="55" lengthAdjust="spacingAndGlyphs" style="font-size:10px">USDCNH,H4</text>
<polygon points="4,7 11,7 7.5,11" fill="#000" shape-rendering="auto"/>
<text x="661.1" y="9" fill="#000" style="font-size:10px" lengthAdjust="spacingAndGlyphs" textLength="32.6">7.25020</text>
<text x="661.1" y="42" fill="#000" style="font-size:10px" lengthAdjust="spacingAndGlyphs" textLength="32.6">7.22920</text>
<text x="661.1" y="108" fill="#000" style="font-size:10px" lengthAdjust="spacingAndGlyphs" textLength="32.6">7.18660</text>
<text x="661.1" y="174" fill="#000" style="font-size:10px" lengthAdjust="spacingAndGlyphs" textLength="32.6">7.14460</text>
<text x="661.1" y="207" fill="#000" style="font-size:10px" lengthAdjust="spacingAndGlyphs" textLength="32.6">7.12300</text>
<text x="661.1" y="273" fill="#000" style="font-size:10px" lengthAdjust="spacingAndGlyphs" textLength="32.6">7.08100</text>
<text x="661.1" y="306" fill="#000" style="font-size:10px" lengthAdjust="spacingAndGlyphs" textLength="32.6">7.06000</text>
<rect x="657" y="209" width="41" height="11" fill="#000"/>
<text x="661.1" y="218" fill="#fff" style="font-size:10px" lengthAdjust="spacingAndGlyphs" textLength="32.6">7.11630</text>
<rect x="657" y="41" width="41" height="11" fill="#ff0000"/>
<text x="661.1" y="50" fill="#fff" style="font-size:10px" lengthAdjust="spacingAndGlyphs" textLength="32.6">7.22333</text>
<rect x="657" y="65" width="41" height="11" fill="#ff0000"/>
<text x="661.1" y="74" fill="#fff" style="font-size:10px" lengthAdjust="spacingAndGlyphs" textLength="32.6">7.20800</text>
<rect x="657" y="90" width="41" height="11" fill="#ff0000"/>
<text x="661.1" y="99" fill="#fff" style="font-size:10px" lengthAdjust="spacingAndGlyphs" textLength="32.6">7.19228</text>
<rect x="657" y="111" width="41" height="11" fill="#ff0000"/>
<text x="661.1" y="120" fill="#fff" style="font-size:10px" lengthAdjust="spacingAndGlyphs" textLength="32.6">7.17828</text>
<rect x="657" y="132" width="41" height="11" fill="#ff0000"/>
<text x="661.1" y="141" fill="#fff" style="font-size:10px" lengthAdjust="spacingAndGlyphs" textLength="32.6">7.16485</text>
<rect x="657" y="158" width="41" height="11" fill="#ff0000"/>
<text x="661.1" y="167" fill="#fff" style="font-size:10px" lengthAdjust="spacingAndGlyphs" textLength="32.6">7.14830</text>
<rect x="657" y="190" width="41" height="11" fill="#ff0000"/>
<text x="661.1" y="199" fill="#fff" style="font-size:10px" lengthAdjust="spacingAndGlyphs" textLength="32.6">7.12798</text>
<rect x="657" y="216" width="41" height="11" fill="#ff0000"/>
<text x="661.1" y="225" fill="#fff" style="font-size:10px" lengthAdjust="spacingAndGlyphs" textLength="32.6">7.11118</text>
<rect x="657" y="233" width="41" height="11" fill="#ff0000"/>
<text x="661.1" y="242" fill="#fff" style="font-size:10px" lengthAdjust="spacingAndGlyphs" textLength="32.6">7.10000</text>
<rect x="657" y="253" width="41" height="11" fill="#ff0000"/>
<text x="661.1" y="262" fill="#fff" style="font-size:10px" lengthAdjust="spacingAndGlyphs" textLength="32.6">7.08731</text>
<rect x="657" y="288" width="41" height="11" fill="#ff0000"/>
<text x="661.1" y="297" fill="#fff" style="font-size:10px" lengthAdjust="spacingAndGlyphs" textLength="32.6">7.06471</text>
<text x="658.7" y="317.9" fill="#000" style="font-size:10px" lengthAdjust="spacingAndGlyphs" textLength="32.6">0.00659</text>
<text x="658.7" y="327.9" fill="#000" style="font-size:10px" lengthAdjust="spacingAndGlyphs" textLength="17.5">0.00</text>
<text x="658.7" y="391.9" fill="#000" style="font-size:10px" lengthAdjust="spacingAndGlyphs" textLength="35.5">-0.03022</text>
<text x="658.7" y="407.9" fill="#000" style="font-size:10px" lengthAdjust="spacingAndGlyphs" textLength="15">100</text>
<text x="658.7" y="419.4" fill="#000" style="font-size:10px" lengthAdjust="spacingAndGlyphs" textLength="10">80</text>
<text x="658.7" y="467.9" fill="#000" style="font-size:10px" lengthAdjust="spacingAndGlyphs" textLength="10">20</text>
<text x="658.7" y="477.9" fill="#000" style="font-size:10px" lengthAdjust="spacingAndGlyphs" textLength="5">0</text>
<text x="0.5" y="494" fill="#000" >11 Aug 2025</text>
<text x="64.5" y="494" fill="#000" >13 Aug 20:00</text>
<text x="128.5" y="494" fill="#000" >18 Aug 12:00</text>
<text x="192.5" y="494" fill="#000" >21 Aug 04:00</text>
<text x="256.5" y="494" fill="#000" >25 Aug 20:00</text>
<text x="320.5" y="494" fill="#000" >28 Aug 12:00</text>
<text x="384.5" y="494" fill="#000" >2 Sep 04:00</text>
<text x="448.5" y="494" fill="#000" >4 Sep 20:00</text>
<text x="512.5" y="494" fill="#000" >9 Sep 12:00</text>
<text x="576.5" y="494" fill="#000" >12 Sep 04:00</text>
<g shape-rendering="auto" fill="none">
<path d="M601.6,209.6 C601.6,206.6 603.8,205.3 606,205.3 C608.4,205.3 610.1,206.6 610.1,208.5 C610.1,210.6 607.9,211.6 606.9,212.6 C606.3,213.2 606.2,214 606.2,215.6" stroke="#2e7d45" stroke-width="2.4"/>
<rect x="605" y="217.2" width="2.5" height="2.5" fill="#2e7d45" stroke="none"/>
<polyline points="613.9,207.6 618.3,219.3 631.2,191.5" stroke="#2e7d45" stroke-width="4" stroke-linejoin="round"/>
<polyline points="620.3,196 630.8,192.3 634,202.8" stroke="#2e7d45" stroke-width="3.5" stroke-linejoin="miter"/>
<polyline points="623.4,189.2 633.6,185 637.5,195.5" stroke="#2e7d45" stroke-width="3.5" stroke-linejoin="miter"/>
<polyline points="640.5,225.8 620.6,225.8 630,247.5" stroke="#a0442a" stroke-width="3.8" stroke-linejoin="miter" stroke-linecap="round"/>
<polyline points="619.8,243.8 630,248.2 633.6,238.7" stroke="#a0442a" stroke-width="3.5" stroke-linejoin="miter"/>
<polyline points="622.6,251.6 632.5,255.4 637,245.8" stroke="#a0442a" stroke-width="3.5" stroke-linejoin="miter"/>
</g>
</svg></body></html>
